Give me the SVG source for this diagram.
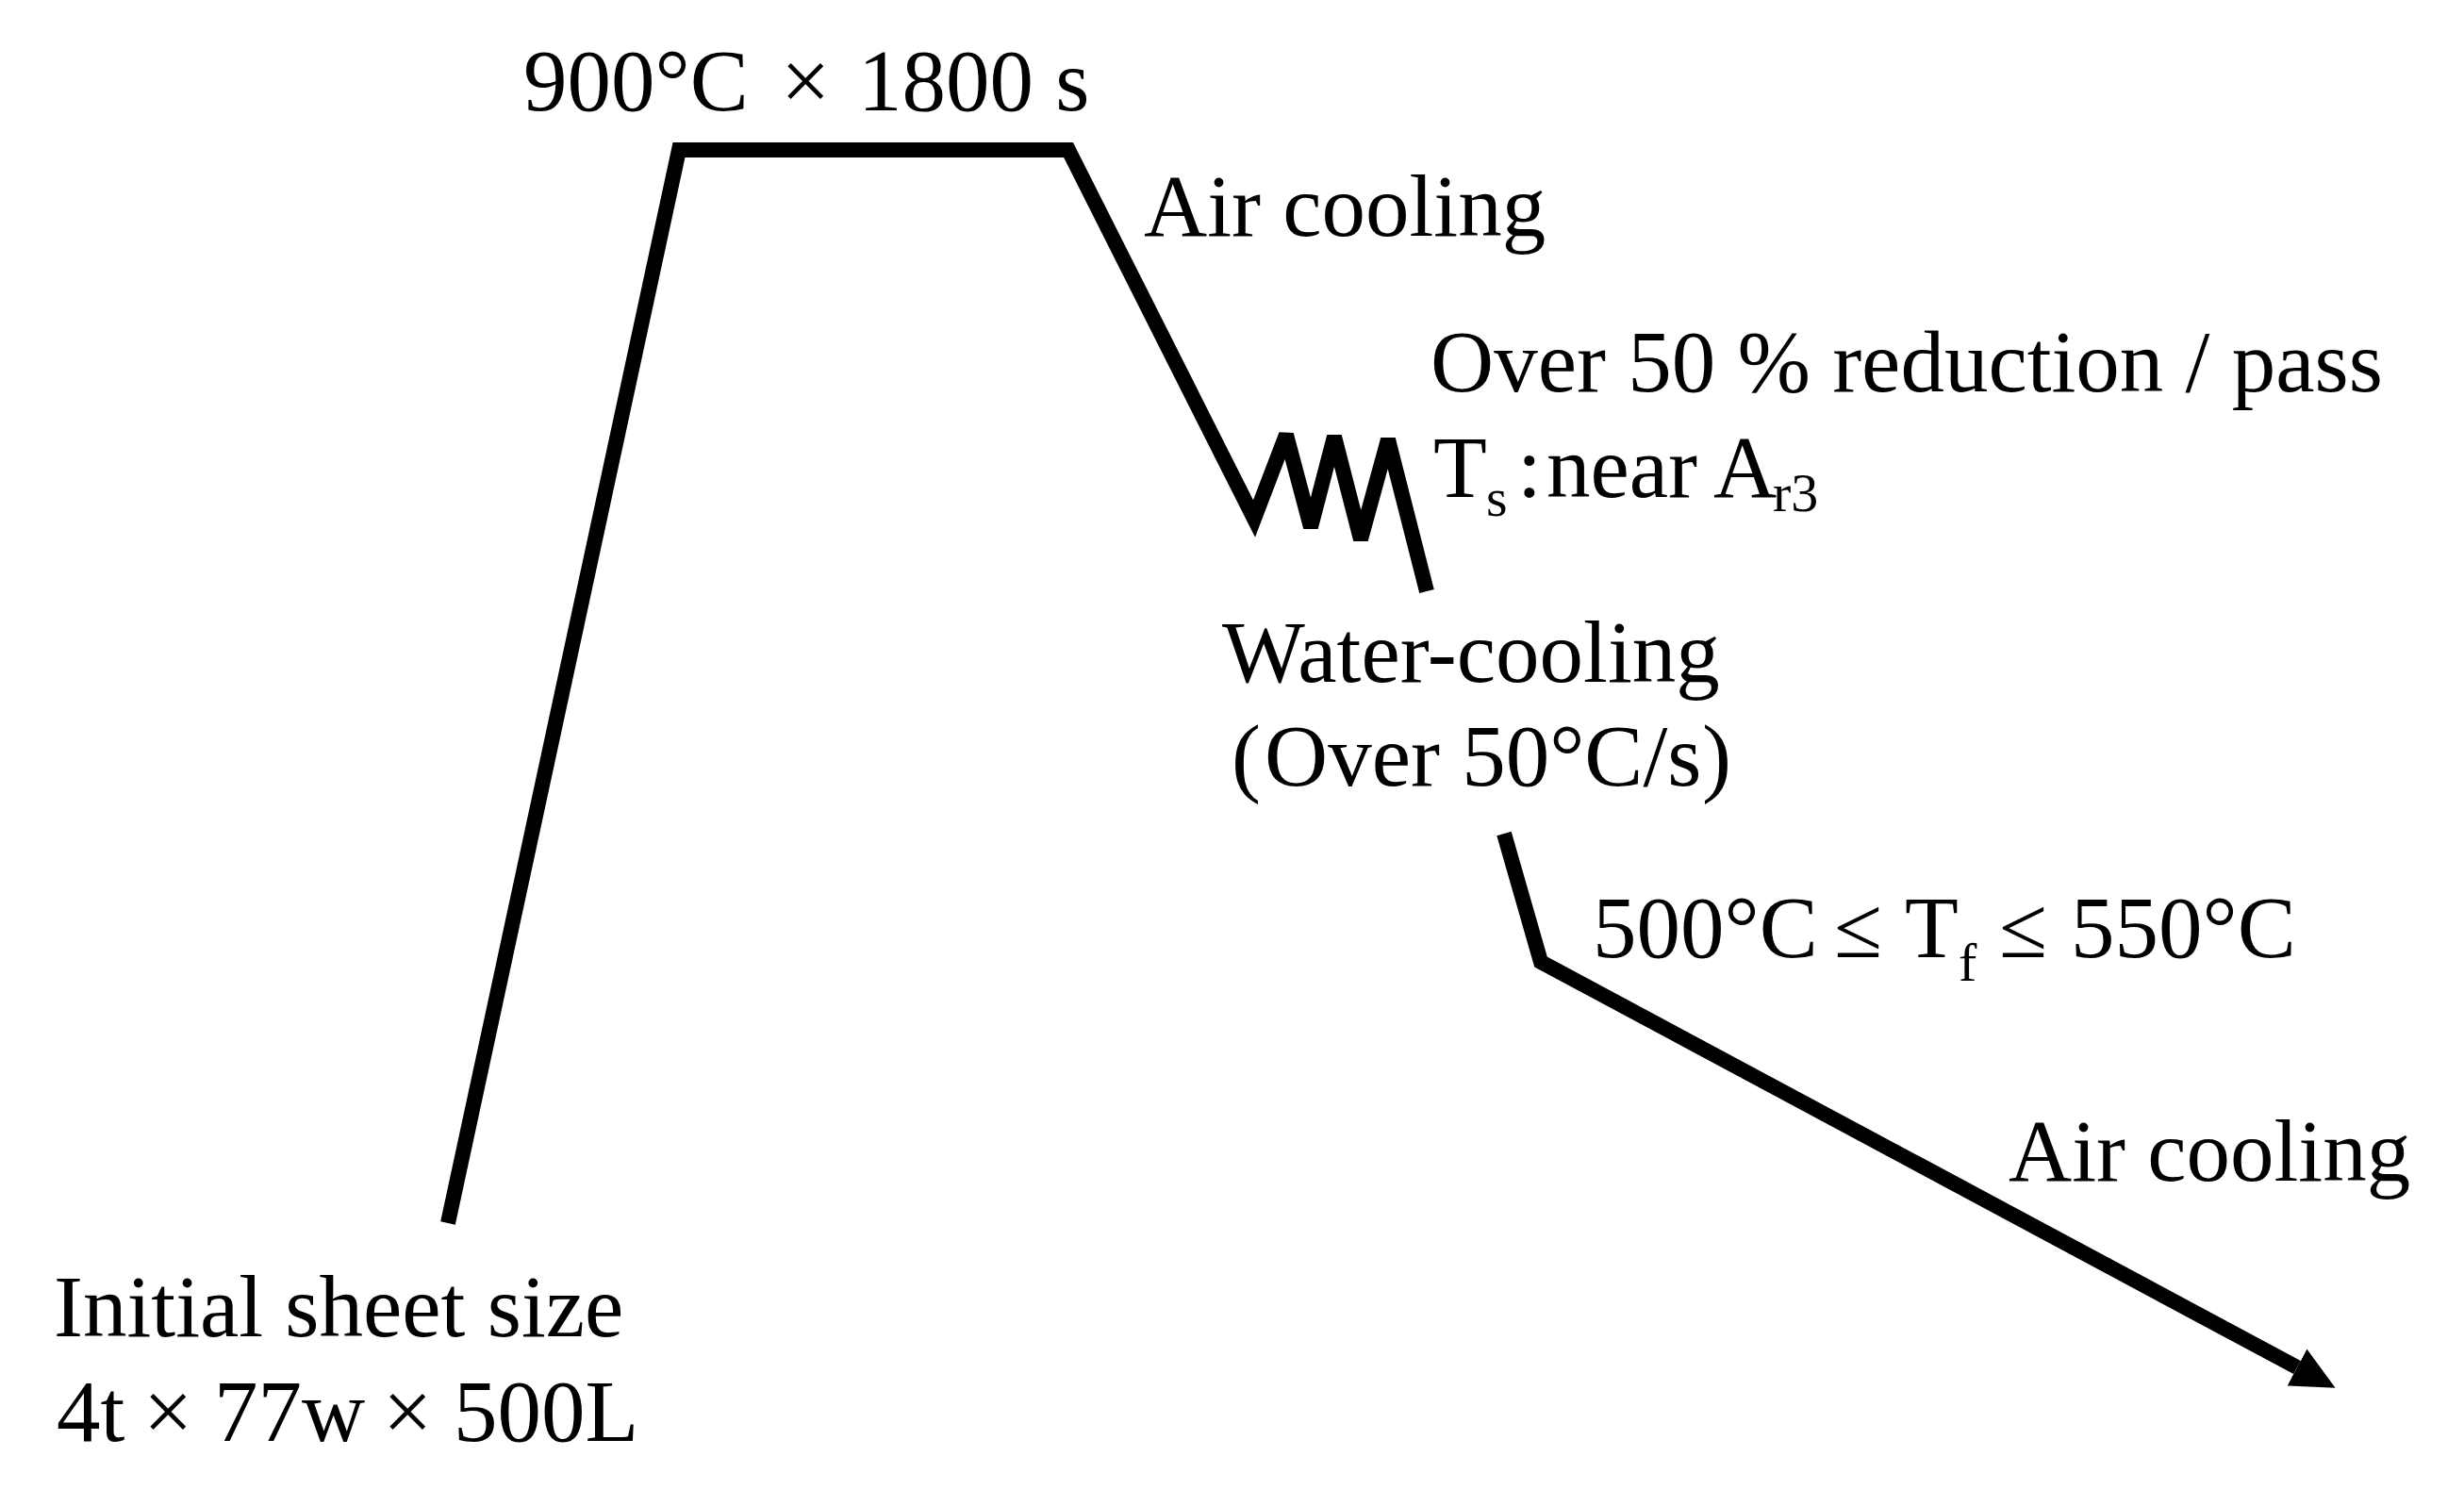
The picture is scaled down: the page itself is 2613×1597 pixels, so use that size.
<svg xmlns="http://www.w3.org/2000/svg" width="2613" height="1597" viewBox="0 0 2613 1597">
<style>
text{font-family:"Liberation Serif","Times New Roman","Noto Sans CJK JP",serif;font-size:93px;fill:#000}
.sub{font-size:58px}
.curve{fill:none;stroke:#000;stroke-width:16;stroke-linejoin:miter;stroke-miterlimit:3;stroke-linecap:butt}
</style>
<defs>
<marker id="arrow" markerUnits="userSpaceOnUse" markerWidth="46" markerHeight="44" refX="0" refY="22" orient="auto" viewBox="0 0 46 44">
<path d="M0,0 L46,22 L0,44 z" fill="#000"/>
</marker>
</defs>
<rect width="2613" height="1597" fill="#fff"/>
<g id="connectors">
<polyline class="curve" points="475,1297 720,159 1133,159 1330,550 1364,461 1390,559 1415,463 1443,572 1472,466 1513,627"/>
<polyline class="curve" points="1595,884 1634,1020 2436,1450" marker-end="url(#arrow)"/>
</g>
<g id="label-hold">
<text y="117"><tspan x="555">900°C</tspan><tspan x="828">×</tspan><tspan x="910">1800 s</tspan></text>
</g>
<g id="label-air1">
<text x="1213" y="250">Air cooling</text>
</g>
<g id="label-reduction">
<text x="1517" y="415">Over 50 % reduction / pass</text>
<text y="527"><tspan x="1520">T</tspan><tspan class="sub" x="1576" y="547">s</tspan><tspan x="1609" y="527">:</tspan><tspan x="1640">near</tspan><tspan x="1817">A</tspan><tspan class="sub" x="1880" y="542">r3</tspan></text>
</g>
<g id="label-water">
<text x="1296" y="723">Water-cooling</text>
<text y="833"><tspan x="1306">(</tspan><tspan x="1341">Over 50°C/s</tspan><tspan x="1805">)</tspan></text>
</g>
<g id="label-finish">
<text y="1015"><tspan x="1689">500°C</tspan><tspan x="1945">≤</tspan><tspan x="2020">T</tspan><tspan class="sub" x="2077" y="1040">f</tspan><tspan x="2120" y="1015">≤</tspan><tspan x="2196">550°C</tspan></text>
</g>
<g id="label-air2">
<text x="2130" y="1252">Air cooling</text>
</g>
<g id="label-initial">
<text x="57" y="1417">Initial sheet size</text>
<text y="1528"><tspan x="60">4t</tspan><tspan x="152">×</tspan><tspan x="227">77w</tspan><tspan x="406">×</tspan><tspan x="481">500L</tspan></text>
</g>
</svg>
